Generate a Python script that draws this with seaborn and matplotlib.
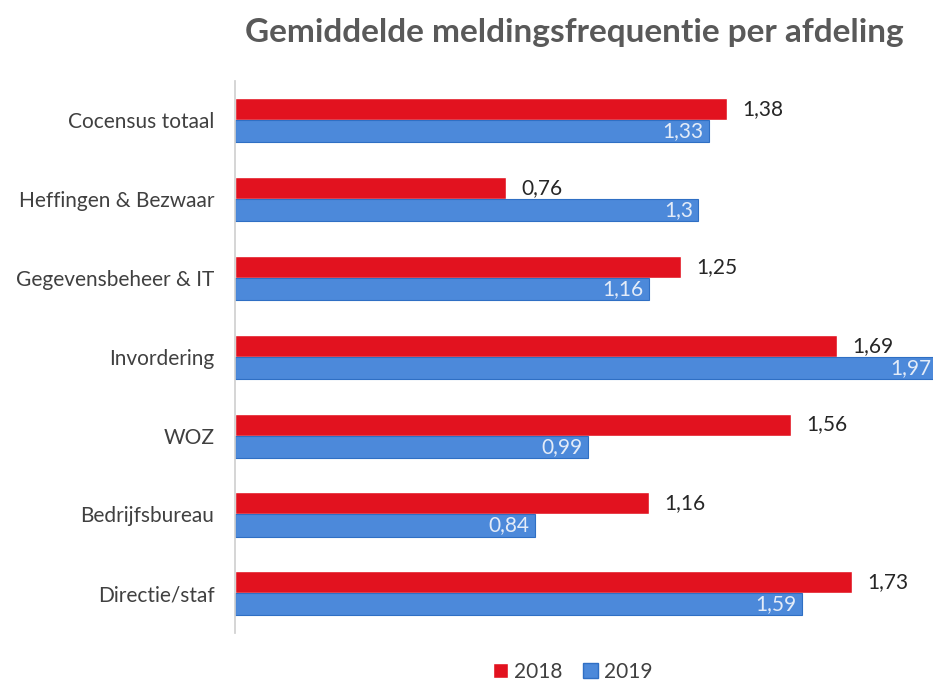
import pandas as pd
import seaborn as sns
import matplotlib.pyplot as plt
from matplotlib.patches import Patch

# Data
afdelingen = ["Cocensus totaal", "Heffingen & Bezwaar", "Gegevensbeheer & IT",
              "Invordering", "WOZ", "Bedrijfsbureau", "Directie/staf"]
freq_2018 = [1.38, 0.76, 1.25, 1.69, 1.56, 1.16, 1.73]
freq_2019 = [1.33, 1.30, 1.16, 1.97, 0.99, 0.84, 1.59]
jaren = ["2018", "2019"]

df = pd.DataFrame({
    "afdeling": afdelingen * 2,
    "jaar": [jaren[0]] * len(afdelingen) + [jaren[1]] * len(afdelingen),
    "freq": freq_2018 + freq_2019,
})

sns.set_theme(style="white")
plt.rcParams['font.family'] = ['Lato', 'DejaVu Sans']

red = "#E2121F"
blue = "#4C89DA"

fig = plt.figure(figsize=(9.33, 6.9), dpi=100)
ax = fig.add_axes([0.252, 0.083, 0.748, 0.80])

sns.barplot(data=df, y="afdeling", x="freq", hue="jaar", orient="h",
            palette=[red, blue], width=0.56, ax=ax, legend=False,
            saturation=1)

# blue bars get a darker outline like the original
for bar in ax.containers[1]:
    bar.set_edgecolor("#2F6FC4")
    bar.set_linewidth(0.8)

ax.set_xlim(0, 1.958)
ax.set_ylim(6.5, -0.5)
ax.set_xlabel("")
ax.set_ylabel("")
ax.set_xticks([])
ax.tick_params(axis="y", length=0, pad=15, labelsize=15, labelcolor="#404040")
for s in ["top", "right", "bottom"]:
    ax.spines[s].set_visible(False)
ax.spines["left"].set_color("#D0D0D0")

fmt = lambda v: str(round(v, 2)).replace(".", ",")

ax.bar_label(ax.containers[0], labels=[fmt(v) for v in freq_2018],
             padding=11, fontsize=15, color="#262626")
lbls = ax.bar_label(ax.containers[1], labels=[fmt(v) for v in freq_2019],
                    padding=-4, fontsize=15, color="#E4ECF8")
for t in lbls:
    t.set_ha("right")
    t.set_annotation_clip(False)

fig.text(0.616, 0.953, "Gemiddelde meldingsfrequentie per afdeling",
         ha="center", va="center", fontsize=24, fontweight="bold",
         color="#595959")

handles = [Patch(facecolor=red, label=jaren[0]),
           Patch(facecolor=blue, edgecolor="#2F6FC4", label=jaren[1])]
fig.legend(handles=handles, loc="lower center", bbox_to_anchor=(0.614, -0.015),
           ncol=2, frameon=False, fontsize=15, handlelength=0.7,
           handleheight=0.7, handletextpad=0.3, columnspacing=1.0,
           labelcolor="#404040")

fig.savefig("out.png", dpi=100)
